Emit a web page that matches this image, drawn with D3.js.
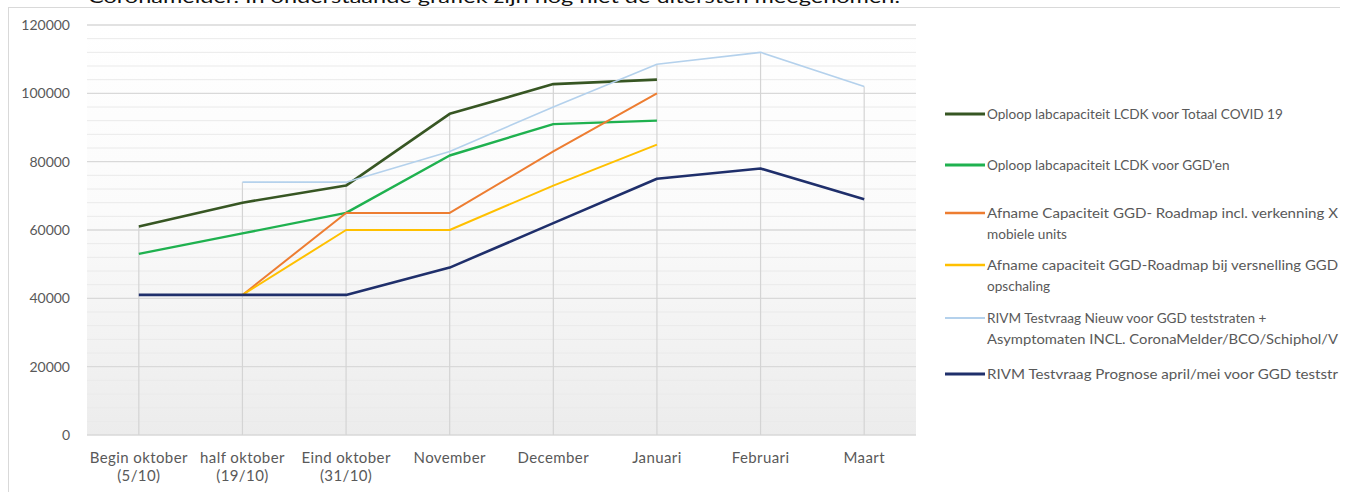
<!DOCTYPE html>
<html><head><meta charset="utf-8">
<script src="https://cdn.jsdelivr.net/npm/d3@7"></script>
<style>html,body{margin:0;padding:0;background:#fff;overflow:hidden}</style>
</head><body>
<script>
const categories = ["Begin oktober|(5/10)","half oktober|(19/10)","Eind oktober|(31/10)","November","December","Januari","Februari","Maart"];
const yTicks = [0,20000,40000,60000,80000,100000,120000];
const totaalCovid = [61000,68000,73000,94000,102700,104000,null,null];
const ggdEn = [53000,59000,65000,81800,91000,92000,null,null];
const roadmapX = [null,41000,65000,65000,83000,100000,null,null];
const roadmapVersnelling = [null,41000,60000,60000,73000,85000,null,null];
const rivmNieuw = [null,74000,74000,83000,96000,108500,112000,102000];
const rivmPrognose = [41000,41000,41000,49000,62000,75000,78000,69000];
// legend texts as visible in the reference (cut at the frame edge there)
const seriesNames = [
  ["Oploop labcapaciteit LCDK voor Totaal COVID 19"],
  ["Oploop labcapaciteit LCDK voor GGD'en"],
  ["Afname Capaciteit GGD- Roadmap incl. verkenning X","mobiele units"],
  ["Afname capaciteit GGD-Roadmap bij versnelling GGD","opschaling"],
  ["RIVM Testvraag Nieuw voor GGD teststraten +","Asymptomaten INCL. CoronaMelder/BCO/Schiphol/V"],
  ["RIVM Testvraag Prognose april/mei voor GGD teststr"]
];
const cutLines = ["Afname Capaciteit GGD- Roadmap incl. verkenning X","Afname capaciteit GGD-Roadmap bij versnelling GGD","Asymptomaten INCL. CoronaMelder/BCO/Schiphol/V","RIVM Testvraag Prognose april/mei voor GGD teststr"];
const seriesData = [totaalCovid, ggdEn, roadmapX, roadmapVersnelling, rivmNieuw, rivmPrognose];
const colors = ["#375623","#1fb14f","#ed7d31","#ffc000","#b4d1ec","#1f2f6b"];
const widths = [2.6,2.4,2,2,1.6,2.6];

const W=1352,H=492;
const svg=d3.select("body").append("svg").attr("width",W).attr("height",H);
const defs=svg.append("defs");
const grad=defs.append("linearGradient").attr("id","bg").attr("x1",0).attr("y1",0).attr("x2",0).attr("y2",1);
grad.append("stop").attr("offset","0%").attr("stop-color","#ffffff");
grad.append("stop").attr("offset","45%").attr("stop-color","#fbfbfb");
grad.append("stop").attr("offset","100%").attr("stop-color","#ececec");

// top cut-off sentence
svg.append("text").attr("x",88).attr("y",3).attr("font-family","Lato, sans-serif").attr("font-size",17)
  .attr("fill","#111").attr("textLength",812).attr("lengthAdjust","spacingAndGlyphs")
  .text("Coronamelder. In onderstaande grafiek zijn nog niet de uitersten meegenomen.");
// frame
svg.append("rect").attr("x",0).attr("y",6).attr("width",1341).attr("height",3).attr("fill","#fff");
svg.append("line").attr("x1",8).attr("x2",1340).attr("y1",7.5).attr("y2",7.5).attr("stroke","#d9d9d9");
svg.append("line").attr("x1",8.5).attr("x2",8.5).attr("y1",7).attr("y2",H).attr("stroke","#d9d9d9");

const L=87,R=916,T=25,B=435;
const x=d3.scaleBand().domain(categories).range([L,R]);
const cx=c=>x(c)+x.bandwidth()/2;
const y=d3.scaleLinear().domain([0,120000]).range([B,T]);

svg.append("rect").attr("x",L).attr("y",T).attr("width",R-L).attr("height",B-T).attr("fill","url(#bg)");
// minor gridlines
svg.append("g").selectAll("line").data(d3.range(0,120001,4000).filter(v=>v%20000)).join("line")
  .attr("x1",L).attr("x2",R).attr("y1",d=>y(d)).attr("y2",d=>y(d)).attr("stroke","#eaeaea").attr("stroke-width",1);
// major gridlines
svg.append("g").selectAll("line").data(yTicks).join("line")
  .attr("x1",L).attr("x2",R).attr("y1",d=>y(d)).attr("y2",d=>y(d)).attr("stroke","#d9d9d9").attr("stroke-width",1.3);
// drop lines
svg.append("g").selectAll("line").data(categories).join("line")
  .attr("x1",d=>cx(d)).attr("x2",d=>cx(d))
  .attr("y1",(d,i)=>y(d3.max(seriesData,s=>s[i]))).attr("y2",B)
  .attr("stroke","#d4d4d4").attr("stroke-width",1.2);

// y axis labels
const ya=d3.axisLeft(y).tickValues(yTicks).tickSize(0).tickPadding(0).tickFormat(d3.format("d"));
const yg=svg.append("g").attr("transform",`translate(70,0)`).call(ya);
yg.select(".domain").remove();
yg.selectAll("text").attr("font-family","Lato, sans-serif").attr("font-size",14).attr("fill","#595959");

// x axis labels
const xa=d3.axisBottom(x).tickSize(0).tickPadding(0).tickFormat(()=>"");
const xg=svg.append("g").attr("transform",`translate(0,${B})`).call(xa);
xg.select(".domain").remove();
xg.selectAll(".tick").each(function(d){
  const parts=d.split("|");
  const t=d3.select(this).append("text").attr("font-family","Lato, sans-serif").attr("font-size",15)
    .attr("letter-spacing",0.4).attr("fill","#595959").attr("text-anchor","middle");
  parts.forEach((p,i)=>t.append("tspan").attr("x",0).attr("y",28+i*18).text(p));
});

// lines
const line=d3.line().defined(d=>d!=null).x((d,i)=>cx(categories[i])).y(d=>y(d));
seriesData.forEach((s,k)=>{
  svg.append("path").datum(s).attr("d",line).attr("fill","none")
    .attr("stroke",colors[k]).attr("stroke-width",widths[k]).attr("stroke-linejoin","round");
});

// legend
const lg=svg.append("g");
const legY=[114,165,213,265,318,374];
seriesNames.forEach((n,k)=>{
  lg.append("line").attr("x1",945).attr("x2",985).attr("y1",legY[k]).attr("y2",legY[k])
    .attr("stroke",colors[k]).attr("stroke-width",widths[k]+0.4);
  n.forEach((t,j)=>{
    const tx=lg.append("text").attr("x",987).attr("y",legY[k]+j*21+5)
      .attr("font-family","Lato, sans-serif").attr("font-size",13.6).attr("fill","#595959").text(t);
    if(cutLines.includes(t)) tx.attr("textLength",351).attr("lengthAdjust","spacingAndGlyphs");
  });
});
</script>
</body></html>
